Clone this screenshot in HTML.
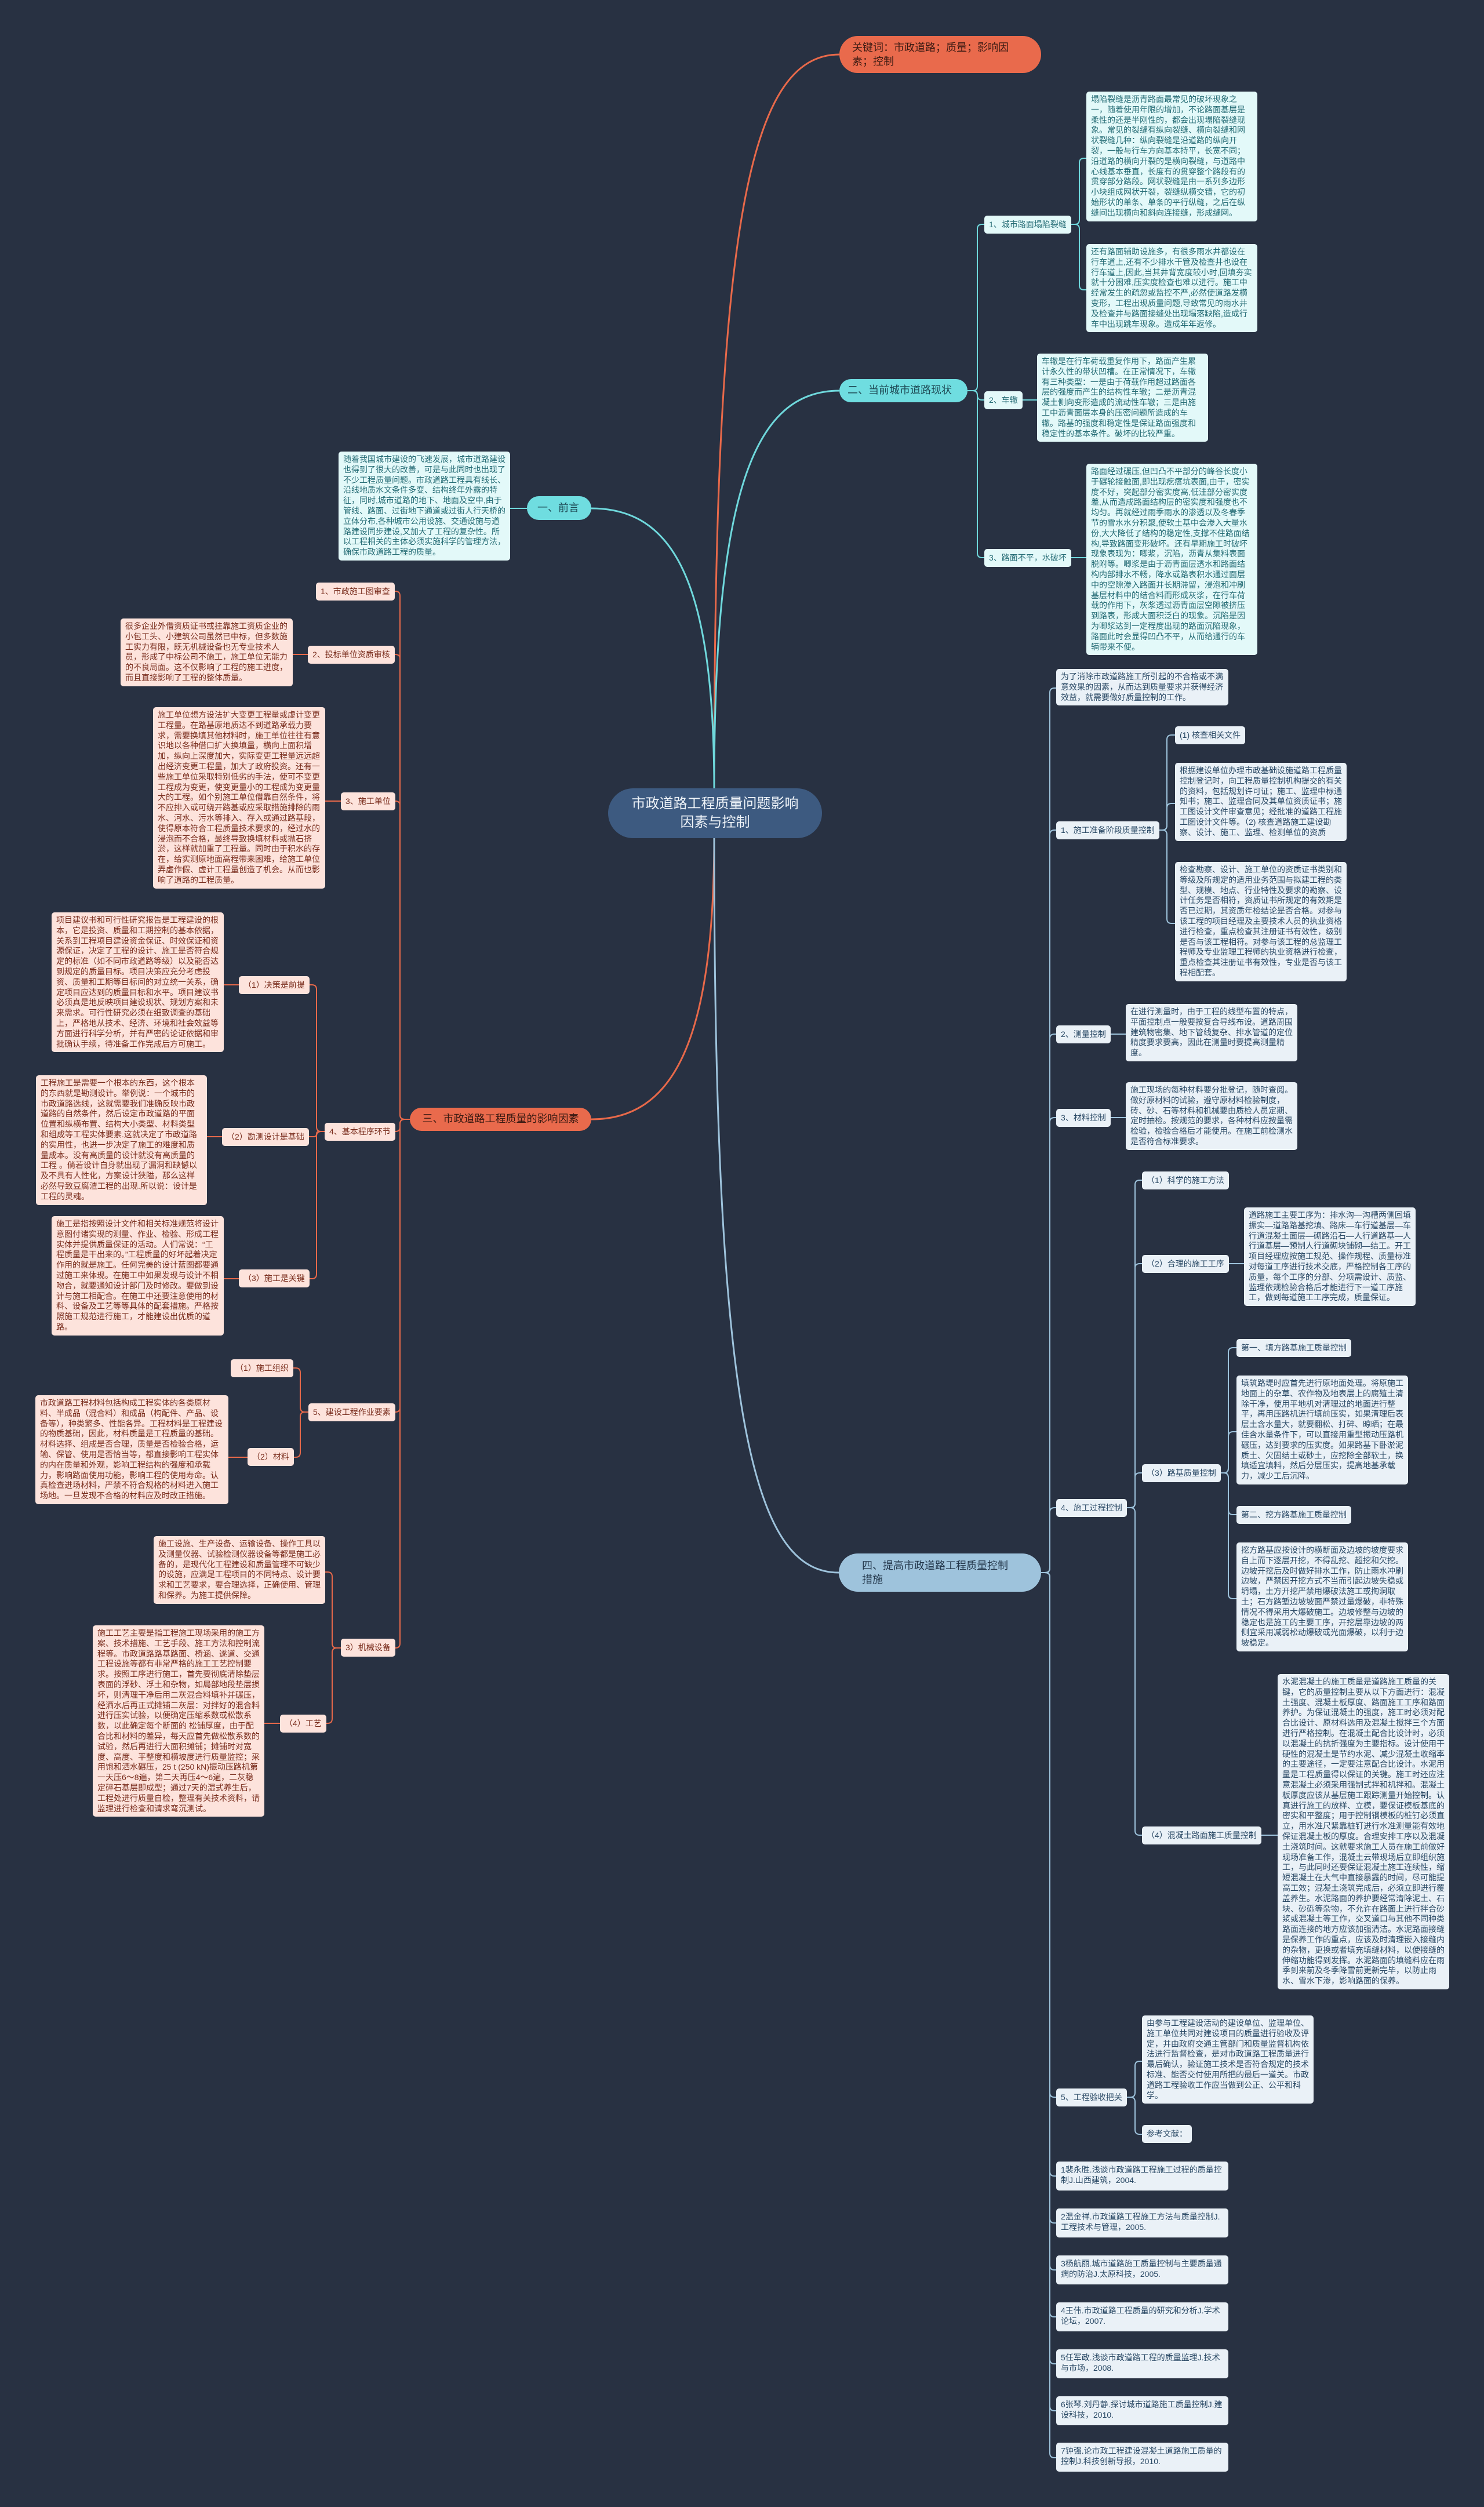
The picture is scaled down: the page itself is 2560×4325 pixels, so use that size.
<!DOCTYPE html>
<html><head><meta charset="utf-8">
<style>
html,body{margin:0;padding:0}
body{width:2560px;height:4325px;background:#283142;position:relative;overflow:hidden;font-family:"Liberation Sans","Noto Sans CJK SC",sans-serif}
.n{position:absolute;box-sizing:border-box;font-size:14px;line-height:17.8px;padding:5px 8px;border-radius:5px;word-break:break-all}
.l{white-space:nowrap;height:31px;line-height:21px}
.c{background:#e3f9f9;color:#256c75}
.o{background:#fde3dc;color:#7a2e1e}
.b{background:#eaf1f7;color:#2b4a66}
.sec{position:absolute;box-sizing:border-box;font-size:18px;line-height:24px;border-radius:22px;padding:8px 18px}
svg{position:absolute;left:0;top:0}
</style></head><body>
<svg id="s" width="2560" height="4325"></svg>

<!-- center -->
<div class="sec" style="left:1049px;top:1360px;width:369px;height:86px;background:#3d5a80;color:#eef3f8;font-size:24px;line-height:32px;border-radius:43px;text-align:center;padding:11px 30px">市政道路工程质量问题影响因素与控制</div>

<!-- keywords -->
<div class="sec" style="left:1448px;top:62px;width:348px;height:64px;background:#e96a4c;color:#3a1a12;border-radius:32px;padding:8px 22px">关键词：市政道路；质量；影响因素；控制</div>

<!-- 二 -->
<div class="sec" style="left:1448px;top:654px;width:221px;height:40px;background:#6fdde0;color:#1e4a55;padding:7px 14px;white-space:nowrap">二、当前城市道路现状</div>
<div class="n c l" style="left:1698px;top:372px">1、城市路面塌陷裂缝</div>
<div class="n c" style="left:1874px;top:158px;width:295px">塌陷裂缝是沥青路面最常见的破坏现象之一，随着使用年限的增加，不论路面基层是柔性的还是半刚性的，都会出现塌陷裂缝现象。常见的裂缝有纵向裂缝、横向裂缝和网状裂缝几种：纵向裂缝是沿道路的纵向开裂，一般与行车方向基本持平，长宽不同；沿道路的横向开裂的是横向裂缝，与道路中心线基本垂直，长度有的贯穿整个路段有的贯穿部分路段。网状裂缝是由一系列多边形小块组成网状开裂，裂缝纵横交错，它的初始形状的单条、单条的平行纵缝，之后在纵缝间出现横向和斜向连接缝，形成缝网。</div>
<div class="n c" style="left:1874px;top:421px;width:295px">还有路面辅助设施多，有很多雨水井都设在行车道上,还有不少排水干管及检查井也设在行车道上,因此,当其井背宽度较小时,回填夯实就十分困难,压实度检查也难以进行。施工中经常发生的疏忽或监控不严,必然使道路发横变形，工程出现质量问题,导致常见的雨水井及检查井与路面接缝处出现塌落缺陷,造成行车中出现跳车现象。造成年年返修。</div>
<div class="n c l" style="left:1698px;top:675px">2、车辙</div>
<div class="n c" style="left:1789px;top:610px;width:295px">车辙是在行车荷载重复作用下，路面产生累计永久性的带状凹槽。在正常情况下，车辙有三种类型：一是由于荷载作用超过路面各层的强度而产生的结构性车辙；二是沥青混凝土侧向变形造成的流动性车辙；三是由施工中沥青面层本身的压密问题所造成的车辙。路基的强度和稳定性是保证路面强度和稳定性的基本条件。破坏的比较严重。</div>
<div class="n c l" style="left:1698px;top:947px">3、路面不平，水破坏</div>
<div class="n c" style="left:1874px;top:800px;width:295px">路面经过碾压,但凹凸不平部分的峰谷长度小于碾轮接触面,即出现疙瘩坑表面,由于，密实度不好，突起部分密实度高,低洼部分密实度差,从而造成路面结构层的密实度和强度也不均匀。再就经过雨季雨水的渗透以及冬春季节的雪水水分积聚,使软土基中会渗入大量水份,大大降低了结构的稳定性,支撑不住路面结构,导致路面变形破坏。还有早期施工时破坏现象表现为：唧浆，沉陷，沥青从集料表面脱附等。唧浆是由于沥青面层透水和路面结构内部排水不畅，降水或路表积水通过面层中的空隙渗入路面并长期滞留，浸泡和冲刷基层材料中的结合料而形成灰浆，在行车荷载的作用下，灰浆透过沥青面层空隙被挤压到路表，形成大面积泛白的现象。沉陷是因为唧浆达到一定程度出现的路面沉陷现象，路面此时会显得凹凸不平，从而给通行的车辆带来不便。</div>

<!-- 一 -->
<div class="sec" style="left:909px;top:856px;width:111px;height:41px;background:#6fdde0;color:#1e4a55;padding:8px 18px;white-space:nowrap">一、前言</div>
<div class="n c" style="left:584px;top:779px;width:296px">随着我国城市建设的飞速发展，城市道路建设也得到了很大的改善，可是与此同时也出现了不少工程质量问题。市政道路工程具有线长、沿线地质水文条件多变、结构终年外露的特征，同时,城市道路的地下、地面及空中,由于管线、路面、过街地下通道或过街人行天桥的立体分布,各种城市公用设施、交通设施与道路建设同步建设,又加大了工程的复杂性。所以工程相关的主体必须实施科学的管理方法，确保市政道路工程的质量。</div>

<!-- 三 -->
<div class="sec" style="left:707px;top:1911px;width:313px;height:40px;background:#e96a4c;color:#3a1a12;padding:7px 12px;white-space:nowrap;text-align:center">三、市政道路工程质量的影响因素</div>
<div class="n o l" style="left:545px;top:1005px">1、市政施工图审查</div>
<div class="n o l" style="left:531px;top:1114px">2、投标单位资质审核</div>
<div class="n o" style="left:208px;top:1067px;width:297px">很多企业外借资质证书或挂靠施工资质企业的小包工头、小建筑公司虽然已中标，但多数施工实力有限，既无机械设备也无专业技术人员，形成了中标公司不施工，施工单位无能力的不良局面。这不仅影响了工程的施工进度，而且直接影响了工程的整体质量。</div>
<div class="n o l" style="left:588px;top:1367px">3、施工单位</div>
<div class="n o" style="left:264px;top:1220px;width:297px">施工单位想方设法扩大变更工程量或虚计变更工程量。在路基原地质达不到道路承载力要求，需要换填其他材料时，施工单位往往有意识地以各种借口扩大换填量，横向上面积增加，纵向上深度加大，实际变更工程量远远超出经济变更工程量，加大了政府投资。还有一些施工单位采取特别低劣的手法，使可不变更工程成为变更，使变更量小的工程成为变更量大的工程。如个别施工单位借靠自然条件，将不应排入或可绕开路基或应采取措施排除的雨水、河水、污水等排入、存入或通过路基段，使得原本符合工程质量技术要求的，经过水的浸泡而不合格，最终导致换填材料或抛石挤淤，这样就加重了工程量。同时由于积水的存在，给实测原地面高程带来困难，给施工单位弄虚作假、虚计工程量创造了机会。从而也影响了道路的工程质量。</div>
<div class="n o l" style="left:560px;top:1937px">4、基本程序环节</div>
<div class="n o l" style="left:412px;top:1684px">（1）决策是前提</div>
<div class="n o" style="left:89px;top:1574px;width:297px">项目建议书和可行性研究报告是工程建设的根本，它是投资、质量和工期控制的基本依据，关系到工程项目建设资金保证、时效保证和资源保证，决定了工程的设计、施工是否符合规定的标准（如不同市政道路等级）以及能否达到规定的质量目标。项目决策应充分考虑投资、质量和工期等目标间的对立统一关系，确定项目应达到的质量目标和水平。项目建议书必须真是地反映项目建设现状、规划方案和未来需求。可行性研究必须在细致调查的基础上，严格地从技术、经济、环境和社会效益等方面进行科学分析，并有严密的论证依据和审批确认手续，待准备工作完成后方可施工。</div>
<div class="n o l" style="left:383px;top:1946px">（2）勘测设计是基础</div>
<div class="n o" style="left:62px;top:1855px;width:295px">工程施工是需要一个根本的东西，这个根本的东西就是勘测设计。举例说：一个城市的市政道路选线，这就需要我们准确反映市政道路的自然条件，然后设定市政道路的平面位置和纵横布置、结构大小类型、材料类型和组成等工程实体要素.这就决定了市政道路的实用性，也进一步决定了施工的难度和质量成本。没有高质量的设计就没有高质量的工程 。倘若设计自身就出现了漏洞和缺憾以及不具有人性化，方案设计狭隘，那么这样必然导致豆腐渣工程的出现.所以说：设计是工程的灵魂。</div>
<div class="n o l" style="left:412px;top:2190px">（3）施工是关键</div>
<div class="n o" style="left:89px;top:2098px;width:297px">施工是指按照设计文件和相关标准规范将设计意图付诸实现的测量、作业、检验、形成工程实体并提供质量保证的活动。人们常说：“工程质量是干出来的。”工程质量的好坏起着决定作用的就是施工。任何完美的设计蓝图都要通过施工来体现。在施工中如果发现与设计不相吻合，就要通知设计部门及时修改。要做到设计与施工相配合。在施工中还要注意使用的材料、设备及工艺等等具体的配套措施。严格按照施工规范进行施工，才能建设出优质的道路。</div>
<div class="n o l" style="left:532px;top:2421px">5、建设工程作业要素</div>
<div class="n o l" style="left:398px;top:2345px">（1）施工组织</div>
<div class="n o l" style="left:427px;top:2498px">（2）材料</div>
<div class="n o" style="left:61px;top:2407px;width:333px">市政道路工程材料包括构成工程实体的各类原材料、半成品（混合料）和成品（构配件、产品、设备等），种类繁多、性能各异。工程材料是工程建设的物质基础，因此，材料质量是工程质量的基础。材料选择、组成是否合理，质量是否检验合格，运输、保管、使用是否恰当等，都直接影响工程实体的内在质量和外观，影响工程结构的强度和承载力，影响路面使用功能，影响工程的使用寿命。认真检查进场材料，严禁不符合规格的材料进入施工场地。一旦发现不合格的材料应及时改正措施。</div>
<div class="n o l" style="left:588px;top:2827px">3）机械设备</div>
<div class="n o" style="left:265px;top:2650px;width:296px">施工设施、生产设备、运输设备、操作工具以及测量仪器、试验检测仪器设备等都是施工必备的，是现代化工程建设和质量管理不可缺少的设施，应满足工程项目的不同特点、设计要求和工艺要求，要合理选择，正确使用、管理和保养。为施工提供保障。</div>
<div class="n o l" style="left:483px;top:2958px">（4）工艺</div>
<div class="n o" style="left:160px;top:2804px;width:296px">施工工艺主要是指工程施工现场采用的施工方案、技术措施、工艺手段、施工方法和控制流程等。市政道路路基路面、桥涵、遂道、交通工程设施等都有非常严格的施工工艺控制要求。按照工序进行施工，首先要彻底清除垫层表面的浮砂、浮土和杂物，如局部地段垫层损坏，则清理干净后用二灰混合料填补并碾压，经洒水后再正式摊铺二灰层：对拌好的混合料进行压实试验，以便确定压缩系数或松散系数，以此确定每个断面的 松铺厚度，由于配合比和材料的差异，每天应首先做松散系数的试验，然后再进行大面积摊铺；摊铺时对宽度、高度、平整度和横坡度进行质量监控；采用饱和洒水碾压，25 t (250 kN)振动压路机第一天压6～8遍，第二天再压4～6遍，二灰稳定碎石基层即成型；通过7天的湿式养生后，工程处进行质量自检，整理有关技术资料，请监理进行检查和请求弯沉测试。</div>

<!-- 四 -->
<div class="sec" style="left:1447px;top:2680px;width:349px;height:66px;background:#9ec3dc;color:#24384c;border-radius:33px;padding:9px 40px">四、提高市政道路工程质量控制措施</div>
<div class="n b" style="left:1822px;top:1154px;width:297px">为了消除市政道路施工所引起的不合格或不满意效果的因素，从而达到质量要求并获得经济效益，就需要做好质量控制的工作。</div>
<div class="n b l" style="left:1822px;top:1417px">1、施工准备阶段质量控制</div>
<div class="n b l" style="left:2027px;top:1253px">(1) 核查相关文件</div>
<div class="n b" style="left:2027px;top:1316px;width:296px">根据建设单位办理市政基础设施道路工程质量控制登记时，向工程质量控制机构提交的有关的资料，包括规划许可证；施工、监理中标通知书；施工、监理合同及其单位资质证书；施工图设计文件审查意见；经批准的道路工程施工图设计文件等。（2) 核查道路施工建设勘察、设计、施工、监理、检测单位的资质</div>
<div class="n b" style="left:2027px;top:1487px;width:296px">检查勘察、设计、施工单位的资质证书类别和等级及所规定的适用业务范围与拟建工程的类型、规模、地点、行业特性及要求的勘察、设计任务是否相符，资质证书所规定的有效期是否已过期，其资质年检结论是否合格。对参与该工程的项目经理及主要技术人员的执业资格进行检查，重点检查其注册证书有效性，级别是否与该工程相符。对参与该工程的总监理工程师及专业监理工程师的执业资格进行检查，重点检查其注册证书有效性，专业是否与该工程相配套。</div>
<div class="n b l" style="left:1822px;top:1769px">2、测量控制</div>
<div class="n b" style="left:1942px;top:1732px;width:296px">在进行测量时，由于工程的线型布置的特点，平面控制点一般要按复合导线布设。道路周围建筑物密集、地下管线复杂、排水管道的定位精度要求要高，因此在测量时要提高测量精度。</div>
<div class="n b l" style="left:1822px;top:1913px">3、材料控制</div>
<div class="n b" style="left:1942px;top:1867px;width:296px">施工现场的每种材料要分批登记，随时查阅。做好原材料的试验，遵守原材料检验制度，砖、砂、石等材料和机械要由质检人员定期、定时抽检。按规范的要求，各种材料应按量需检验，检验合格后才能使用。在施工前检测水是否符合标准要求。</div>
<div class="n b l" style="left:1822px;top:2586px">4、施工过程控制</div>
<div class="n b l" style="left:1970px;top:2021px">（1）科学的施工方法</div>
<div class="n b l" style="left:1970px;top:2165px">（2）合理的施工工序</div>
<div class="n b" style="left:2146px;top:2083px;width:296px">道路施工主要工序为：排水沟—沟槽两侧回填振实—道路路基挖填、路床—车行道基层—车行道混凝土面层—砌路沿石—人行道路基—人行道基层—预制人行道砌块铺砌—结工。开工项目经理应按施工规范、操作规程、质量标准对每道工序进行技术交底，严格控制各工序的质量，每个工序的分部、分项需设计、质监、监理依规检验合格后才能进行下一道工序施工，做到每道施工工序完成，质量保证。</div>
<div class="n b l" style="left:1970px;top:2526px">（3）路基质量控制</div>
<div class="n b l" style="left:2133px;top:2310px">第一、填方路基施工质量控制</div>
<div class="n b" style="left:2133px;top:2373px;width:296px">填筑路堤时应首先进行原地面处理。将原施工地面上的杂草、农作物及地表层上的腐殖土清除干净，使用平地机对清理过的地面进行整平，再用压路机进行填前压实，如果清理后表层土含水量大，就要翻松、打碎、晾晒；在最佳含水量条件下，可以直接用重型振动压路机碾压，达到要求的压实度。如果路基下卧淤泥质土、欠固结土或砂土，应挖除全部软土，换填适宜填料，然后分层压实，提高地基承载力，减少工后沉降。</div>
<div class="n b l" style="left:2133px;top:2598px">第二、挖方路基施工质量控制</div>
<div class="n b" style="left:2133px;top:2661px;width:296px">挖方路基应按设计的横断面及边坡的坡度要求自上而下逐层开挖，不得乱挖、超挖和欠挖。边坡开挖后及时做好排水工作，防止雨水冲刷边坡，严禁因开挖方式不当而引起边坡失稳或坍塌，土方开挖严禁用爆破法施工或掏洞取土；石方路堑边坡坡面严禁过量爆破，非特殊情况不得采用大爆破施工。边坡修整与边坡的稳定也是施工的主要工序，开挖层靠边坡的两侧宜采用减弱松动爆破或光面爆破，以利于边坡稳定。</div>
<div class="n b l" style="left:1970px;top:3151px">（4）混凝土路面施工质量控制</div>
<div class="n b" style="left:2204px;top:2888px;width:296px">水泥混凝土的施工质量是道路施工质量的关键，它的质量控制主要从以下方面进行：混凝土强度、混凝土板厚度、路面施工工序和路面养护。为保证混凝土的强度，施工时必须对配合比设计、原材料选用及混凝土搅拌三个方面进行严格控制。在混凝土配合比设计时，必须以混凝土的抗折强度为主要指标。设计使用干硬性的混凝土是节约水泥、减少混凝土收缩率的主要途径，一定要注意配合比设计。水泥用量是工程质量得以保证的关键。施工时还应注意混凝土必须采用强制式拌和机拌和。混凝土板厚度应该从基层施工跟踪测量开始控制。认真进行施工的放样、立模，要保证模板基底的密实和平整度；用于控制钢模板的桩钉必须直立，用水准尺紧靠桩钉进行水准测量能有效地保证混凝土板的厚度。合理安排工序以及混凝土浇筑时间。这就要求施工人员在施工前做好现场准备工作，混凝土云带现场后立即组织施工，与此同时还要保证混凝土施工连续性，缩短混凝土在大气中直接暴露的时间，尽可能提高工效；混凝土浇筑完成后，必须立即进行覆盖养生。水泥路面的养护要经常清除泥土、石块、砂砾等杂物，不允许在路面上进行拌合砂浆或混凝土等工作，交叉道口与其他不同种类路面连接的地方应该加强清洁。水泥路面接缝是保养工作的重点，应该及时清理嵌入接缝内的杂物，更换或者填充填缝材料，以使接缝的伸缩功能得到发挥。水泥路面的填缝料应在雨季到来前及冬季降雪前更新完毕，以防止雨水、雪水下渗，影响路面的保养。</div>
<div class="n b l" style="left:1822px;top:3603px">5、工程验收把关</div>
<div class="n b" style="left:1970px;top:3477px;width:296px">由参与工程建设活动的建设单位、监理单位、施工单位共同对建设项目的质量进行验收及评定，并由政府交通主管部门和质量监督机构依法进行监督检查，是对市政道路工程质量进行最后确认，验证施工技术是否符合规定的技术标准、能否交付使用所把的最后一道关。市政道路工程验收工作应当做到公正、公平和科学。</div>
<div class="n b l" style="left:1970px;top:3666px">参考文献：</div>
<div class="n b" style="left:1822px;top:3729px;width:297px;height:50px;padding-top:6px">1裴永胜.浅谈市政道路工程施工过程的质量控制J.山西建筑，2004.</div>
<div class="n b" style="left:1822px;top:3810px;width:297px;height:50px;padding-top:6px">2温金祥.市政道路工程施工方法与质量控制J.工程技术与管理，2005.</div>
<div class="n b" style="left:1822px;top:3891px;width:297px;height:50px;padding-top:6px">3杨航丽.城市道路施工质量控制与主要质量通病的防治J.太原科技，2005.</div>
<div class="n b" style="left:1822px;top:3972px;width:297px;height:50px;padding-top:6px">4王伟.市政道路工程质量的研究和分析J.学术论坛，2007.</div>
<div class="n b" style="left:1822px;top:4053px;width:297px;height:50px;padding-top:6px">5任军政.浅谈市政道路工程的质量监理J.技术与市场，2008.</div>
<div class="n b" style="left:1822px;top:4134px;width:297px;height:50px;padding-top:6px">6张琴.刘丹静.探讨城市道路施工质量控制J.建设科技，2010.</div>
<div class="n b" style="left:1822px;top:4214px;width:297px;height:50px;padding-top:6px">7钟强.论市政工程建设混凝土道路施工质量的控制J.科技创新导报，2010.</div>

<script>
var s=document.getElementById('s'),P='';
function p(d,c,w){P+='<path d="'+d+'" fill="none" stroke="'+c+'" stroke-width="'+(w||2)+'"/>';}
function e(x1,y1,xm,x2,ys,c){ys.forEach(function(y2){var r=Math.min(8,Math.abs(y2-y1)/2),dx=xm>x1?1:-1,dy=y2>y1?1:-1;
 if(Math.abs(y2-y1)<1){p('M'+x1+' '+y1+'H'+x2,c);return;}
 p('M'+x1+' '+y1+'H'+(xm-dx*r)+'Q'+xm+' '+y1+' '+xm+' '+(y1+dy*r)+'V'+(y2-dy*r)+'Q'+xm+' '+y2+' '+(xm+dx*r)+' '+y2+'H'+x2,c);});}
var O='#e8694a',C='#6fd8dc',B='#9ec3dc';
p('M1232 1362C1232 400 1290 94 1448 94',O,3);
p('M1232 1362C1232 850 1300 674 1448 674',C,3);
p('M1232 1362C1232 1000 1160 877 1020 877',C,3);
p('M1232 1444C1232 1800 1160 1931 1020 1931',O,3);
p('M1232 1444C1232 2450 1300 2713 1447 2713',B,3);
e(1669,674,1686,1698,[387,690,962],C);
e(1846,387,1862,1874,[273,500],C);
e(1761,690,1775,1789,[690],C);
e(1846,962,1860,1874,[962],C);
e(909,877,895,880,[877],C);
e(708,1931,690,680,[1020,1129,1382,1952,2436,2843],O);
e(531,1129,518,505,[1129],O);
e(588,1382,575,561,[1382],O);
e(560,1952,546,533,[1699,1961,2206],O);
e(412,1699,399,386,[1699],O);e(383,1961,370,357,[1961],O);e(412,2206,399,386,[2206],O);
e(532,2436,518,505,[2360,2514],O);
e(427,2514,410,394,[2514],O);
e(588,2843,573,561,[2712,2973],O);
e(483,2973,470,456,[2973],O);
e(1796,2713,1811,1822,[1187,1432,1784,1928,2601,3618,3754,3835,3916,3997,4078,4159,4240],B);
e(1999,1432,2013,2027,[1268,1386,1593],B);
e(1915,1784,1928,1942,[1784],B);e(1915,1928,1928,1942,[1928],B);
e(1944,2601,1958,1970,[2036,2180,2541,3166],B);
e(2119,2180,2132,2146,[2180],B);
e(2105,2541,2119,2133,[2325,2470,2613,2758],B);
e(2176,3166,2190,2204,[3166],B);
e(1944,3618,1958,1970,[3556,3682],B);
s.innerHTML=P;
</script>
</body></html>
